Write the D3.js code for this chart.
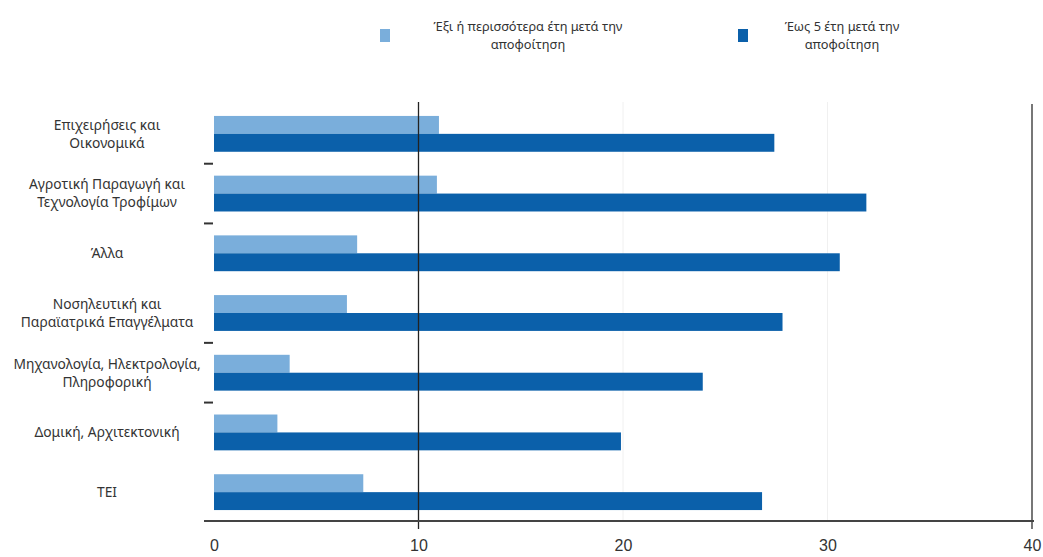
<!DOCTYPE html>
<html><head><meta charset="utf-8">
<script src="https://cdn.jsdelivr.net/npm/d3@7"></script>
<style>
html,body{margin:0;padding:0;background:#fff;}
svg{display:block;}
</style>
</head><body>
<svg id="chart" width="1043" height="557"></svg>
<script>
const categories = [
  "Επιχειρήσεις και\nΟικονομικά",
  "Αγροτική Παραγωγή και\nΤεχνολογία Τροφίμων",
  "Άλλα",
  "Νοσηλευτική και\nΠαραϊατρικά Επαγγέλματα",
  "Μηχανολογία, Ηλεκτρολογία,\nΠληροφορική",
  "Δομική, Αρχιτεκτονική",
  "ΤΕΙ"
];
const sixOrMore = [11.0, 10.9, 7.0, 6.5, 3.7, 3.1, 7.3];
const upToFive = [27.4, 31.9, 30.6, 27.8, 23.9, 19.9, 26.8];
const seriesNames = ["Έξι ή περισσότερα έτη μετά την\nαποφοίτηση", "Έως 5 έτη μετά την\nαποφοίτηση"];
const xTicks = [0, 10, 20, 30, 40];
const separatorAfter = [0, 1, 3, 4];

const colors = ["#7aaedb", "#0b60aa"];
const svg = d3.select("#chart");
const x = d3.scaleLinear().domain([0, 40]).range([214, 1032]);
const y = d3.scaleBand().domain(categories).range([104, 522]).paddingInner(0.4).paddingOuter(0.2);
const sub = d3.scaleBand().domain([0, 1]).range([0, y.bandwidth()]);

// faint gridlines
svg.append("g").selectAll("line").data([20, 30]).join("line")
  .attr("x1", d => x(d)).attr("x2", d => x(d))
  .attr("y1", 102).attr("y2", 522)
  .attr("stroke", "#f0f0f0").attr("stroke-width", 1);

// bars
const series = [sixOrMore, upToFive];
series.forEach((vals, si) => {
  svg.append("g").selectAll("rect").data(vals).join("rect")
    .attr("x", x(0))
    .attr("y", (d, i) => y(categories[i]) + sub(si))
    .attr("width", d => x(d) - x(0))
    .attr("height", sub.bandwidth())
    .attr("fill", colors[si]);
});

// vertical line at 10 and 40
svg.append("line").attr("x1", x(10)).attr("x2", x(10)).attr("y1", 102).attr("y2", 529)
  .attr("stroke", "#222").attr("stroke-width", 1.3);
svg.append("line").attr("x1", x(40)).attr("x2", x(40)).attr("y1", 104).attr("y2", 529)
  .attr("stroke", "#777").attr("stroke-width", 2);

// bottom axis
const xAxis = svg.append("g").attr("transform", "translate(0,521)")
  .call(d3.axisBottom(x).tickValues(xTicks).tickSize(0).tickPadding(19).tickFormat(d3.format("d")));
xAxis.select(".domain").remove();
xAxis.append("line").attr("x1", 204).attr("x2", 1034).attr("y1", 0).attr("y2", 0)
  .attr("stroke", "#444").attr("stroke-width", 2);
xAxis.selectAll("text").attr("font-family", "'Liberation Sans Narrow', 'Liberation Sans', sans-serif")
  .attr("font-size", 16).attr("fill", "#333");

// separators
svg.append("g").selectAll("line").data(separatorAfter).join("line")
  .attr("x1", 204).attr("x2", 213)
  .attr("y1", i => y(categories[i]) + y.bandwidth() + (y.step() - y.bandwidth()) / 2)
  .attr("y2", i => y(categories[i]) + y.bandwidth() + (y.step() - y.bandwidth()) / 2)
  .attr("stroke", "#333").attr("stroke-width", 2);

// category labels
const lab = svg.append("g").selectAll("text").data(categories).join("text")
  .attr("text-anchor", "middle")
  .attr("font-family", "'Noto Sans', sans-serif")
  .attr("font-size", 13.8).attr("fill", "#333")
  .attr("transform", d => `translate(107,${y(d) + y.bandwidth() / 2})`);
lab.each(function(d) {
  const lines = d.split("\n");
  const t = d3.select(this);
  lines.forEach((ln, k) => {
    t.append("tspan").attr("x", 0)
      .attr("y", (k - (lines.length - 1) / 2) * 18)
      .attr("dy", "0.35em").text(ln);
  });
});

// legend
const legendPos = [{sx: 380, tx: 528}, {sx: 738, tx: 842}];
seriesNames.forEach((name, si) => {
  const g = svg.append("g");
  g.append("rect").attr("x", legendPos[si].sx).attr("y", 29).attr("width", 10).attr("height", 13)
    .attr("fill", colors[si]);
  const t = g.append("text").attr("text-anchor", "middle")
    .attr("font-family", "'Noto Sans', sans-serif").attr("font-size", 12.8).attr("fill", "#333");
  name.split("\n").forEach((ln, k) => {
    t.append("tspan").attr("x", legendPos[si].tx).attr("y", 27 + k * 18).attr("dy", "0.35em").text(ln);
  });
});
</script>
</body></html>
